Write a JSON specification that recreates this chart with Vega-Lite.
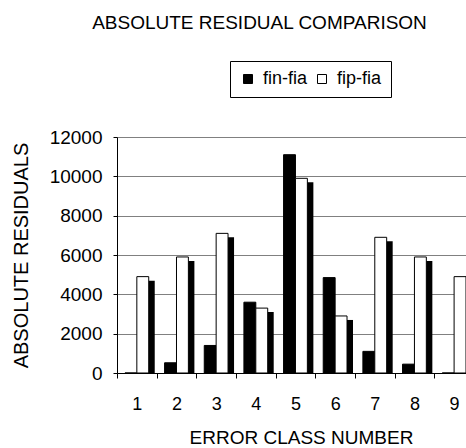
{
  "$schema": "https://vega.github.io/schema/vega-lite/v6.json",
  "width": 349,
  "height": 236,
  "autosize": {"type": "none"},
  "padding": {"left": 117, "top": 137, "right": 0, "bottom": 75},
  "background": "white",
  "config": {
    "font": "Liberation Sans",
    "view": {"stroke": null},
    "axis": {"labelColor": "black", "titleColor": "black", "titleFontWeight": "normal", "domainColor": "black", "tickColor": "black"}
  },
  "title": {
    "text": "ABSOLUTE RESIDUAL COMPARISON",
    "fontSize": 19,
    "fontWeight": "normal",
    "color": "black",
    "anchor": "middle",
    "frame": "group",
    "baseline": "alphabetic",
    "dx": -32,
    "offset": 13
  },
  "datasets": {
    "residuals": [
      {"cls": 1, "series": "fin-fia", "value": 0},
      {"cls": 1, "series": "fip-fia", "value": 4900},
      {"cls": 2, "series": "fin-fia", "value": 520},
      {"cls": 2, "series": "fip-fia", "value": 5900},
      {"cls": 3, "series": "fin-fia", "value": 1400},
      {"cls": 3, "series": "fip-fia", "value": 7100},
      {"cls": 4, "series": "fin-fia", "value": 3600},
      {"cls": 4, "series": "fip-fia", "value": 3300},
      {"cls": 5, "series": "fin-fia", "value": 11100},
      {"cls": 5, "series": "fip-fia", "value": 9900},
      {"cls": 6, "series": "fin-fia", "value": 4850},
      {"cls": 6, "series": "fip-fia", "value": 2900},
      {"cls": 7, "series": "fin-fia", "value": 1100},
      {"cls": 7, "series": "fip-fia", "value": 6900},
      {"cls": 8, "series": "fin-fia", "value": 450},
      {"cls": 8, "series": "fip-fia", "value": 5900},
      {"cls": 9, "series": "fin-fia", "value": 0},
      {"cls": 9, "series": "fip-fia", "value": 4900}
    ]
  },
  "data": {"name": "residuals"},
  "encoding": {
    "x": {
      "field": "cls",
      "type": "ordinal",
      "scale": {"paddingInner": 0.4, "paddingOuter": 0.1, "align": 1},
      "axis": {
        "title": "ERROR CLASS NUMBER",
        "titleFontSize": 19,
        "titleX": 184,
        "titleY": 64,
        "titleBaseline": "middle",
        "labelAngle": 0,
        "labelFontSize": 18,
        "labelPadding": 17,
        "tickSize": 5,
        "bandPosition": 0.5,
        "tickOffset": -19.83,
        "labelOffset": 19.83,
        "domainColor": "black"
      }
    }
  },
  "layer": [
    {
      "transform": [{"filter": "datum.series === 'fip-fia'"}],
      "mark": {"type": "bar", "color": "black", "clip": true},
      "encoding": {
        "xOffset": {"field": "series", "type": "nominal", "scale": {"domain": ["fin-fia", "fip-fia"], "range": [6, 29.8]}},
        "y": {
          "field": "value",
          "type": "quantitative",
          "scale": {"domain": [0, 12000], "nice": false, "range": [240, 4]},
          "axis": null
        }
      }
    },
    {
      "mark": {"type": "bar", "stroke": "black", "strokeWidth": 1},
      "encoding": {
        "xOffset": {"field": "series", "type": "nominal", "scale": {"domain": ["fin-fia", "fip-fia"]}},
        "y": {
          "field": "value",
          "type": "quantitative",
          "scale": {"domain": [0, 12000], "nice": false},
          "axis": {
            "title": "ABSOLUTE RESIDUALS",
            "titleFontSize": 20,
            "titleX": -96,
            "titleY": 118,
            "titleAlign": "center",
            "titleBaseline": "middle",
            "titleAngle": -90,
            "values": [0, 2000, 4000, 6000, 8000, 10000, 12000],
            "format": "d",
            "labelFontSize": 19,
            "labelPadding": 11,
            "tickSize": 4,
            "grid": true,
            "gridColor": "#808080",
            "gridWidth": 1
          }
        },
        "fill": {
          "field": "series",
          "type": "nominal",
          "scale": {"domain": ["fin-fia", "fip-fia"], "range": ["black", "white"]},
          "legend": {
            "title": null,
            "orient": "none",
            "legendX": 113,
            "legendY": -76,
            "direction": "horizontal",
            "strokeColor": "black",
            "fillColor": "white",
            "padding": 9,
            "labelFontSize": 18,
            "labelColor": "black",
            "symbolType": "square",
            "symbolSize": 81,
            "symbolStrokeColor": "black",
            "symbolStrokeWidth": 1,
            "columnPadding": 5,
            "labelOffset": 6
          }
        }
      }
    }
  ],
  "resolve": {"scale": {"y": "independent", "xOffset": "independent"}}
}
